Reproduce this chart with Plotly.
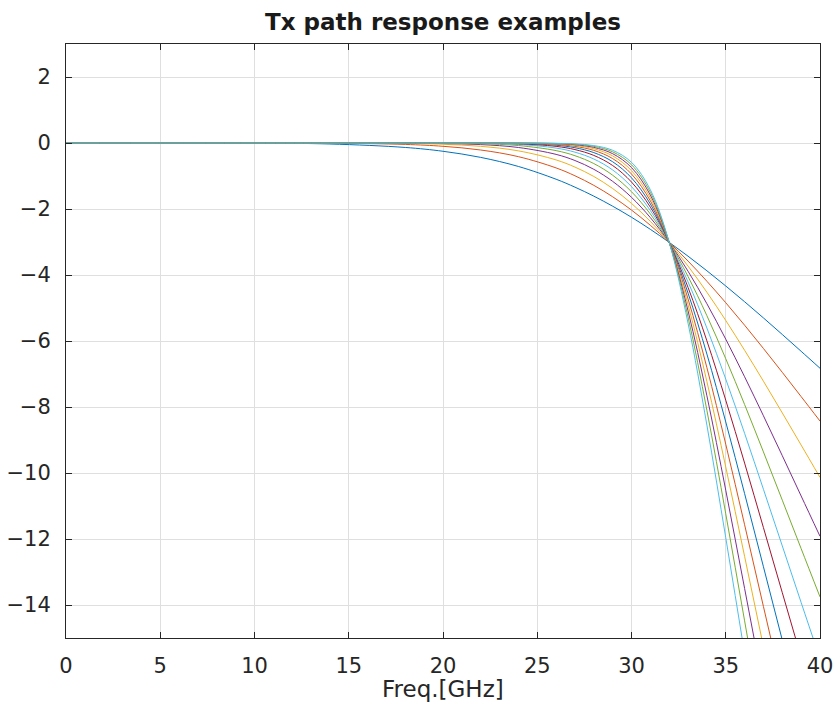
import plotly.graph_objects as go

# ---- data ----
freq_ghz = [0, 10, 14, 18, 20, 22, 24, 26, 27, 28, 29, 30, 31, 32, 33, 34, 35, 36, 37, 38, 39, 40]

resp_n3 = [0, -0.004, -0.030, -0.135, -0.251, -0.436, -0.711, -1.098, -1.338, -1.610, -1.915, -2.250, -2.616, -3.010, -3.430, -3.872, -4.333, -4.810, -5.301, -5.803, -6.312, -6.826]
resp_n4 = [0, 0, -0.006, -0.043, -0.100, -0.212, -0.414, -0.755, -0.993, -1.283, -1.629, -2.032, -2.494, -3.010, -3.578, -4.190, -4.840, -5.521, -6.227, -6.950, -7.685, -8.426]
resp_n5 = [0, 0, -0.001, -0.014, -0.039, -0.101, -0.238, -0.513, -0.730, -1.014, -1.379, -1.831, -2.375, -3.010, -3.730, -4.523, -5.378, -6.281, -7.219, -8.180, -9.154, -10.134]
resp_n6 = [0, 0, 0, -0.004, -0.015, -0.048, -0.136, -0.345, -0.531, -0.797, -1.162, -1.646, -2.261, -3.010, -3.886, -4.871, -5.945, -7.084, -8.267, -9.476, -10.697, -11.918]
resp_n7 = [0, 0, 0, -0.001, -0.006, -0.023, -0.077, -0.231, -0.385, -0.623, -0.976, -1.477, -2.152, -3.010, -4.046, -5.233, -6.538, -7.925, -9.362, -10.824, -12.292, -13.754]
resp_n8 = [0, 0, 0, 0, -0.002, -0.011, -0.043, -0.154, -0.278, -0.485, -0.817, -1.323, -2.046, -3.010, -4.210, -5.608, -7.155, -8.798, -10.494, -12.210, -13.926, -15.626]
resp_n9 = [0, 0, 0, 0, -0.001, -0.005, -0.024, -0.102, -0.199, -0.376, -0.682, -1.183, -1.944, -3.010, -4.378, -5.996, -7.794, -9.699, -11.656, -13.627, -15.587, -17.521]
resp_n10 = [0, 0, 0, 0, 0, -0.002, -0.014, -0.068, -0.143, -0.291, -0.568, -1.055, -1.847, -3.010, -4.549, -6.396, -8.453, -10.624, -12.842, -15.064, -17.266, -19.431]
resp_n11 = [0, 0, 0, 0, 0, -0.001, -0.008, -0.045, -0.102, -0.224, -0.472, -0.940, -1.753, -3.010, -4.725, -6.808, -9.128, -11.567, -14.046, -16.517, -18.957, -21.352]
resp_n12 = [0, 0, 0, 0, 0, -0.001, -0.004, -0.030, -0.073, -0.173, -0.391, -0.837, -1.664, -3.010, -4.904, -7.230, -9.818, -12.526, -15.263, -17.982, -20.657, -23.279]
resp_n13 = [0, 0, 0, 0, 0, 0, -0.002, -0.020, -0.052, -0.133, -0.324, -0.744, -1.578, -3.010, -5.086, -7.661, -10.522, -13.498, -16.492, -19.454, -22.364, -25.207]
resp_n14 = [0, 0, 0, 0, 0, 0, -0.001, -0.013, -0.037, -0.102, -0.268, -0.660, -1.495, -3.010, -5.272, -8.102, -11.237, -14.480, -17.728, -20.932, -24.073, -27.143]
resp_n15 = [0, 0, 0, 0, 0, 0, -0.001, -0.009, -0.027, -0.078, -0.221, -0.585, -1.417, -3.010, -5.462, -8.551, -11.961, -15.470, -18.970, -22.415, -25.786, -29.078]

series_names = ["n=3", "n=4", "n=5", "n=6", "n=7", "n=8", "n=9", "n=10", "n=11", "n=12", "n=13", "n=14", "n=15"]
series_values = [resp_n3, resp_n4, resp_n5, resp_n6, resp_n7, resp_n8, resp_n9,
                 resp_n10, resp_n11, resp_n12, resp_n13, resp_n14, resp_n15]

xtick_vals = [0, 5, 10, 15, 20, 25, 30, 35, 40]
ytick_vals = [-14, -12, -10, -8, -6, -4, -2, 0, 2]

# ---- style ----
matlab_colors = ["#0072BD", "#D95319", "#EDB120", "#7E2F8E", "#77AC30", "#4DBEEE", "#A2142F"]
FONT = "DejaVu Sans"
TXT = "#262626"
GRID = "#dfdfdf"

fig = go.Figure()
for i, (name, vals) in enumerate(zip(series_names, series_values)):
    fig.add_trace(go.Scatter(
        x=freq_ghz, y=vals, mode="lines", name=name,
        line=dict(color=matlab_colors[i % 7], width=1, shape="spline", smoothing=1.0),
        showlegend=False,
    ))

axis_common = dict(
    showline=True, linecolor=TXT, linewidth=1, mirror="ticks",
    ticks="inside", ticklen=6, tickwidth=1, tickcolor=TXT,
    showgrid=True, gridcolor=GRID, gridwidth=1, zeroline=False,
    automargin=False,
    tickfont=dict(family=FONT, size=21, color=TXT),
)

fig.update_xaxes(range=[0, 40], tickmode="array", tickvals=xtick_vals, ticklabelstandoff=9, **axis_common)
fig.update_yaxes(range=[-15, 3], tickmode="array", tickvals=ytick_vals, ticklabelstandoff=10, **axis_common)

fig.update_layout(
    width=837, height=708,
    margin=dict(l=66, r=17, t=44, b=70, autoexpand=False),
    paper_bgcolor="white", plot_bgcolor="white",
    title=dict(text="<b>Tx path response examples</b>", x=0.5, xref="paper", xanchor="center",
               y=1 - 22 / 708, yanchor="middle", automargin=False,
               font=dict(family=FONT, size=23, color="#1a1a1a")),
    annotations=[dict(text="Freq.[GHz]", xref="paper", yref="paper", x=0.5, y=-51 / 594,
                      xanchor="center", yanchor="middle", showarrow=False,
                      font=dict(family=FONT, size=23, color=TXT))],
)

fig.write_html("out.html")
